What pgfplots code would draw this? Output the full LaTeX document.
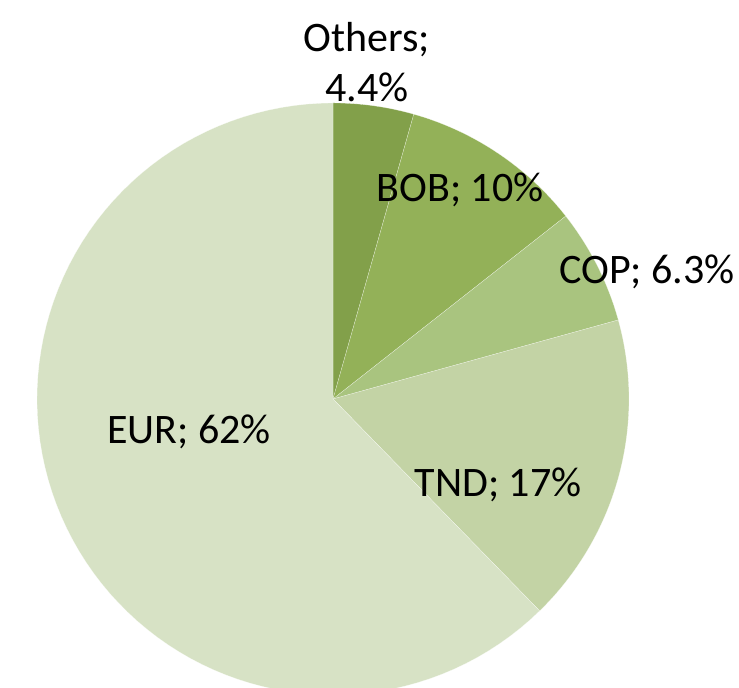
\documentclass[border=0pt]{standalone}
\usepackage{fontspec}
\setmainfont{Carlito}
\usepackage{pgfplots}
\pgfplotsset{compat=1.18}
\definecolor{cOth}{HTML}{82A04A}
\definecolor{cBOB}{HTML}{93B158}
\definecolor{cCOP}{HTML}{A9C47F}
\definecolor{cTND}{HTML}{C3D3A5}
\definecolor{cEUR}{HTML}{D7E2C5}
% shares in percent
\def\vOth{4.4}
\def\vBOB{10}
\def\vCOP{6.3}
\def\vTND{17}
\def\vEUR{62}
\newcommand{\slice}[3]{%
  \addplot[draw=white, draw opacity=0.6, line width=0.15pt, fill=#3, domain=#1:#2, samples=90, variable=\t]
    ({333+296*cos(\t)},{289+296*sin(\t)}) -- (axis cs:333,289) -- cycle;}
\begin{document}
\begin{tikzpicture}
\pgfmathsetmacro{\aA}{90}
\pgfmathsetmacro{\aB}{\aA-3.6*\vOth}
\pgfmathsetmacro{\aC}{\aB-3.6*\vBOB}
\pgfmathsetmacro{\aD}{\aC-3.6*\vCOP}
\pgfmathsetmacro{\aE}{\aD-3.6*\vTND}
\pgfmathsetmacro{\aF}{-270}
\begin{axis}[x=0.5pt, y=0.5pt, xmin=0, xmax=739, ymin=0, ymax=688,
  hide axis, clip=true, scale only axis]
\slice{\aB}{\aA}{cOth}
\slice{\aC}{\aB}{cBOB}
\slice{\aD}{\aC}{cCOP}
\slice{\aE}{\aD}{cTND}
\slice{\aF}{\aE}{cEUR}
\node[font=\fontsize{21}{25}\selectfont, align=center] at (axis cs:367,626) {Others;\\4.4\%};
\node[font=\fontsize{21}{25}\selectfont] at (axis cs:460,498) {BOB; 10\%};
\node[font=\fontsize{21}{25}\selectfont] at (axis cs:647,416) {COP; 6.3\%};
\node[font=\fontsize{21}{25}\selectfont] at (axis cs:498,203) {TND; 17\%};
\node[font=\fontsize{21}{25}\selectfont] at (axis cs:189,256) {EUR; 62\%};
\end{axis}
\pgfresetboundingbox
\path (current axis.south west) rectangle (current axis.north east);
\end{tikzpicture}
\end{document}
